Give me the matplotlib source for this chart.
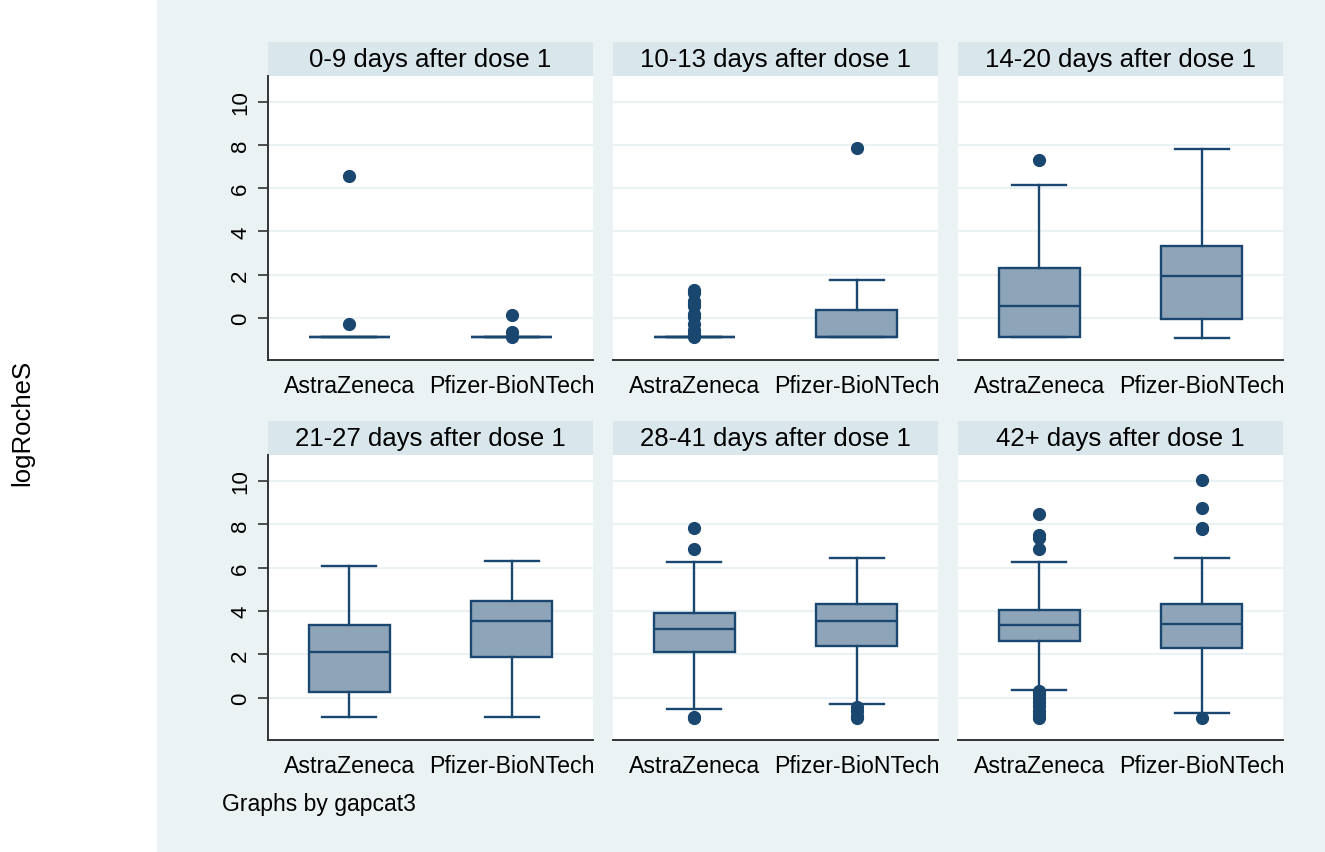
import matplotlib.pyplot as plt
from matplotlib.patches import Rectangle

plt.rcParams['font.family'] = ['Liberation Sans', 'DejaVu Sans']

# panel titles and groups
panels = ["0-9 days after dose 1", "10-13 days after dose 1", "14-20 days after dose 1",
          "21-27 days after dose 1", "28-41 days after dose 1", "42+ days after dose 1"]
vaccines = ["AstraZeneca", "Pfizer-BioNTech"]

# box stats: (whislo, q1, med, q3, whishi)
az_box = [(-0.9, -0.9, -0.9, -0.9, -0.9),
          (-0.9, -0.9, -0.9, -0.9, -0.9),
          (-0.9, -0.9, 0.57, 2.29, 6.15),
          (-0.9, 0.25, 2.12, 3.37, 6.1),
          (-0.52, 2.09, 3.16, 3.92, 6.25),
          (0.37, 2.6, 3.34, 4.07, 6.28)]
pf_box = [(-0.9, -0.9, -0.9, -0.9, -0.9),
          (-0.9, -0.9, -0.88, 0.35, 1.75),
          (-0.92, -0.07, 1.92, 3.35, 7.82),
          (-0.9, 1.9, 3.55, 4.45, 6.3),
          (-0.31, 2.4, 3.53, 4.31, 6.47),
          (-0.71, 2.3, 3.42, 4.33, 6.43)]

# outliers
az_out = [[6.58, -0.28],
          [1.3, 1.15, 0.8, 0.65, 0.55, 0.2, 0.05, -0.3, -0.55, -0.75, -0.9],
          [7.32],
          [],
          [7.85, 6.88, -0.88, -0.95],
          [8.5, 7.5, 7.35, 6.86, 0.32, 0.15, 0.0, -0.2, -0.4, -0.6, -0.8, -0.95]]
pf_out = [[0.15, -0.65, -0.9],
          [7.85],
          [],
          [],
          [-0.43, -0.62, -0.85, -0.95],
          [10.05, 8.74, 7.85, 7.78, -0.93]]

navy = '#1A476F'
fill = '#8EA4B9'
bg = '#EAF2F3'
strip = '#D9E6EB'

W, H = 1325, 853
fig = plt.figure(figsize=(W / 100, H / 100), dpi=100)
fig.patches.append(Rectangle((157 / W, 0), 1 - 157 / W, 1, transform=fig.transFigure,
                             facecolor=bg, edgecolor='none', zorder=-10))

lefts = [268, 613, 958]
rows = [(77, 361), (456, 741)]
for i, title in enumerate(panels):
    r, c = divmod(i, 3)
    top, bot = rows[r]
    ax = fig.add_axes([lefts[c] / W, 1 - bot / H, 325 / W, (bot - top) / H])
    ax.set_facecolor('white')
    stats = []
    for box, out in [(az_box[i], az_out[i]), (pf_box[i], pf_out[i])]:
        stats.append(dict(whislo=box[0], q1=box[1], med=box[2], q3=box[3], whishi=box[4],
                          fliers=out))
    ax.bxp(stats, positions=[1, 2], widths=0.5, patch_artist=True,
           boxprops=dict(facecolor=fill, edgecolor=navy, linewidth=1.7),
           medianprops=dict(color=navy, linewidth=1.7),
           whiskerprops=dict(color=navy, linewidth=1.7),
           capprops=dict(color=navy, linewidth=1.7),
           capwidths=0.33,
           flierprops=dict(marker='o', markerfacecolor=navy, markeredgecolor=navy,
                           markersize=8.5))
    ax.set_xlim(0.5, 2.5)
    ax.set_ylim(-1.95, 11.2)
    ax.set_yticks([0, 2, 4, 6, 8, 10])
    ax.yaxis.grid(True, color=bg, linewidth=1.5)
    ax.set_axisbelow(True)
    ax.set_xticks([1, 2])
    ax.set_xticklabels(vaccines, fontsize=16.7)
    ax.tick_params(axis='x', length=0, pad=10)
    for s in ['top', 'right']:
        ax.spines[s].set_visible(False)
    ax.spines['bottom'].set_color('#333333')
    ax.spines['bottom'].set_linewidth(1.4)
    if c == 0:
        ax.spines['left'].set_color('#333333')
        ax.spines['left'].set_linewidth(1.4)
        ax.tick_params(axis='y', length=7, width=1.2, color='#333333', pad=5, labelsize=16)
        for lab in ax.get_yticklabels():
            lab.set_rotation(90)
            lab.set_va('center')
    else:
        ax.spines['left'].set_visible(False)
        ax.tick_params(axis='y', length=0, labelleft=False)
    sh = 34 / (bot - top)
    ax.add_patch(Rectangle((0, 1), 1, sh, transform=ax.transAxes, facecolor=strip,
                           edgecolor='none', clip_on=False))
    ax.text(0.5, 1 + sh / 2, title, transform=ax.transAxes, ha='center', va='center',
            fontsize=18.5)

fig.text(22 / W, 1 - 423 / H, "logRocheS", rotation=90, ha='center', va='center', fontsize=18.5)
fig.text(222 / W, 1 - 805 / H, "Graphs by gapcat3", ha='left', va='center', fontsize=16.5)

fig.savefig('out.png', dpi=100)
